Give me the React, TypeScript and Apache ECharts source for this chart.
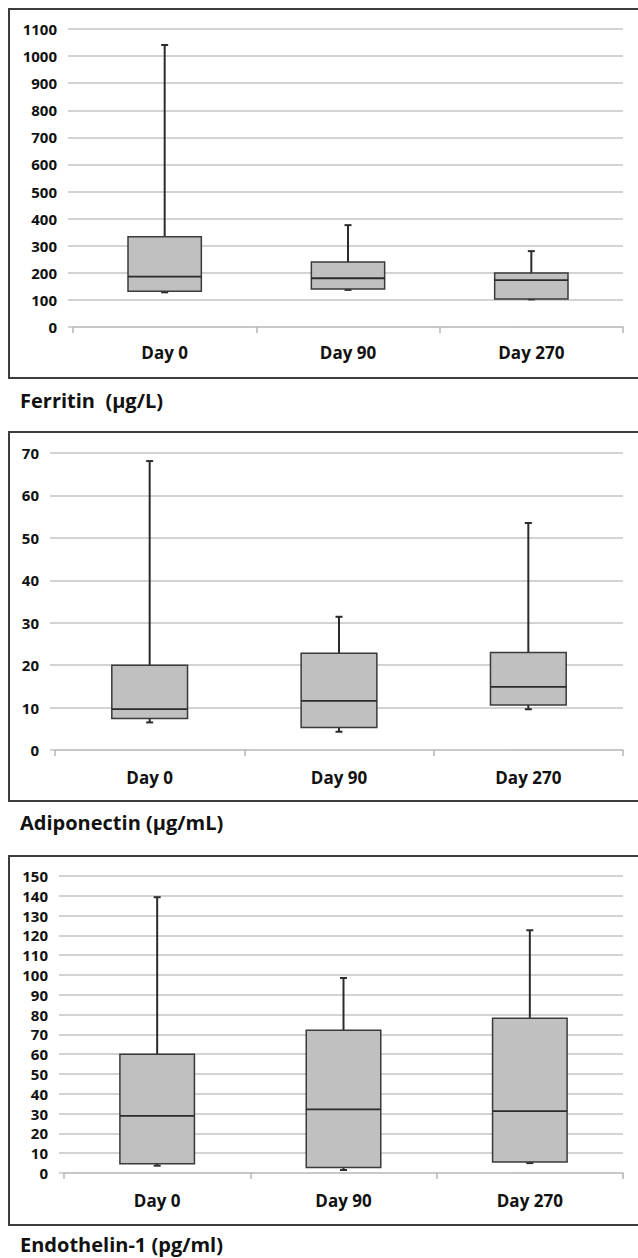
import React, { useEffect, useRef } from "react";
import * as echarts from "echarts";

const categories = ["Day 0", "Day 90", "Day 270"];

// [min, Q1, median, Q3, max]
const ferritin = [
  [128, 132, 186, 333, 1041],
  [137, 140, 180, 240, 376],
  [102, 103, 173, 199, 280],
];
const adiponectin = [
  [6.5, 7.45, 9.65, 20.0, 68.1],
  [4.3, 5.3, 11.6, 22.8, 31.4],
  [9.6, 10.6, 14.9, 23.0, 53.5],
];
const endothelin = [
  [3.7, 4.7, 28.9, 60.0, 139.3],
  [1.5, 2.8, 32.1, 72.1, 98.5],
  [5.0, 5.5, 31.3, 78.2, 122.6],
];

const titles = ["Ferritin  (\u00b5g/L)", "Adiponectin (\u00b5g/mL)", "Endothelin-1 (pg/ml)"];
const yMax = [1100, 70, 150];
const yStep = [100, 10, 10];

const FONT = "'Open Sans', 'Noto Sans', sans-serif";

const grids = [
  { left: 73, top: 29, width: 550, height: 298 },
  { left: 55, top: 453, width: 568, height: 297 },
  { left: 64, top: 876, width: 559, height: 297 },
];
const frames = [
  { y: 9, h: 369 },
  { y: 432, h: 369 },
  { y: 856, h: 369 },
];
const titleY = [400, 822, 1244];
const labelMargin = [17, 19, 19];

function renderBox(params: any, api: any) {
  const x = api.value(0);
  const vMin = api.value(1);
  const q1 = api.value(2);
  const med = api.value(3);
  const q3 = api.value(4);
  const vMax = api.value(5);
  const pMin = api.coord([x, vMin]);
  const pQ1 = api.coord([x, q1]);
  const pMed = api.coord([x, med]);
  const pQ3 = api.coord([x, q3]);
  const pMax = api.coord([x, vMax]);
  const bw = api.size([1, 0])[0] * 0.4;
  const cx = pMed[0];
  const dark = "#2b2b2b";
  const cap = 3.5;
  return {
    type: "group",
    children: [
      { type: "line", shape: { x1: cx, y1: pMax[1], x2: cx, y2: pQ3[1] }, style: { stroke: dark, lineWidth: 2 } },
      { type: "line", shape: { x1: cx - cap, y1: pMax[1], x2: cx + cap, y2: pMax[1] }, style: { stroke: dark, lineWidth: 2 } },
      { type: "line", shape: { x1: cx, y1: pQ1[1], x2: cx, y2: pMin[1] }, style: { stroke: dark, lineWidth: 2 } },
      { type: "line", shape: { x1: cx - cap, y1: pMin[1], x2: cx + cap, y2: pMin[1] }, style: { stroke: dark, lineWidth: 2 } },
      {
        type: "rect",
        shape: { x: cx - bw / 2, y: pQ3[1], width: bw, height: pQ1[1] - pQ3[1] },
        style: { fill: "#c0c0c0", stroke: "#3a3a3a", lineWidth: 1.5 },
      },
      { type: "line", shape: { x1: cx - bw / 2, y1: pMed[1], x2: cx + bw / 2, y2: pMed[1] }, style: { stroke: dark, lineWidth: 1.8 } },
    ],
  };
}

export default function App() {
  const ref = useRef<HTMLDivElement>(null);
  useEffect(() => {
    if (!ref.current) return;
    const chart = echarts.init(ref.current, null, { renderer: "svg" });
    const datasets = [ferritin, adiponectin, endothelin];
    const option: any = {
      animation: false,
      backgroundColor: "#ffffff",
      grid: grids.map((g) => ({ ...g, containLabel: false })),
      xAxis: grids.map((_, i) => ({
        type: "category",
        gridIndex: i,
        data: categories,
        boundaryGap: true,
        axisLine: { show: true, lineStyle: { color: "#c4c4c4", width: 1.5 } },
        axisTick: { show: true, interval: 0, alignWithLabel: false, length: 6, lineStyle: { color: "#b4b4b4", width: 1.5 } },
        axisLabel: { color: "#111", fontFamily: FONT, fontWeight: "bold", fontSize: 17, margin: labelMargin[i] },
        splitLine: { show: false },
      })),
      yAxis: grids.map((_, i) => ({
        type: "value",
        gridIndex: i,
        min: 0,
        max: yMax[i],
        interval: yStep[i],
        axisLine: { show: false },
        axisTick: { show: true, length: 5, lineStyle: { color: "#c4c4c4", width: 1.5 } },
        axisLabel: {
          color: "#111",
          fontFamily: FONT,
          fontWeight: "bold",
          fontSize: 15,
          margin: 16,
          formatter: (v: number) => String(v),
        },
        splitLine: { show: true, lineStyle: { color: "#c4c4c4", width: 1.5 } },
      })),
      series: datasets.map((d, i) => ({
        type: "custom",
        xAxisIndex: i,
        yAxisIndex: i,
        renderItem: renderBox,
        encode: { x: 0, y: [1, 2, 3, 4, 5] },
        data: d.map((row, k) => [k, ...row]),
        z: 5,
      })),
      graphic: [
        ...frames.map((f) => ({
          type: "rect",
          shape: { x: 9, y: f.y, width: 640, height: f.h },
          style: { fill: "none", stroke: "#3c3c3c", lineWidth: 2 },
          silent: true,
          z: 10,
        })),
        ...titles.map((t, i) => ({
          type: "text",
          x: 20,
          y: titleY[i],
          style: {
            text: t,
            fill: "#111",
            font: `bold 20px ${FONT}`,
            textVerticalAlign: "middle",
          },
          z: 10,
        })),
      ],
    };
    chart.setOption(option);
    return () => chart.dispose();
  }, []);
  return (
    <div
      ref={ref}
      style={{ position: "absolute", left: 0, top: 0, width: 638, height: 1258, background: "#fff" }}
    />
  );
}
